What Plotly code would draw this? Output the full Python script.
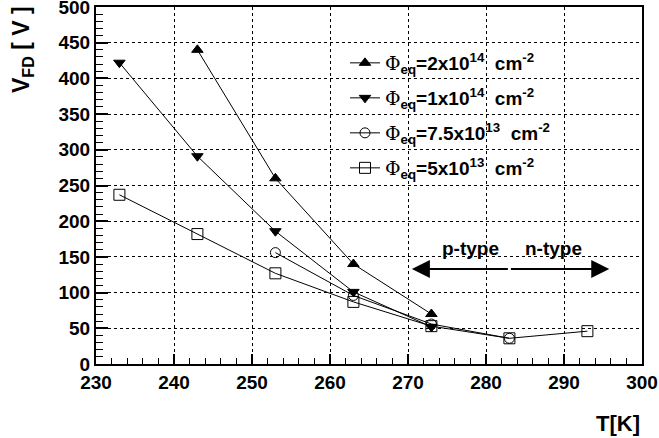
import plotly.graph_objects as go

# ---- data ----
T_2e14 = [243, 253, 263, 273]
V_2e14 = [440, 260, 140, 70]

T_1e14 = [233, 243, 253, 263, 273]
V_1e14 = [422, 291, 186, 101, 52]

T_75e13 = [253, 263, 273, 283]
V_75e13 = [156, 96, 56, 36]

T_5e13 = [233, 243, 253, 263, 273, 283, 293]
V_5e13 = [237, 182, 127, 87, 53, 36, 46]

PHI = "<span style='font-family:DejaVu Serif;font-weight:normal'>Φ</span>"
names = [
    PHI + "<sub>eq</sub>=2x10<sup>14</sup>&nbsp; cm<sup>-2</sup>",
    PHI + "<sub>eq</sub>=1x10<sup>14</sup>&nbsp; cm<sup>-2</sup>",
    PHI + "<sub>eq</sub>=7.5x10<sup>13</sup>&nbsp; cm<sup>-2</sup>",
    PHI + "<sub>eq</sub>=5x10<sup>13</sup>&nbsp; cm<sup>-2</sup>",
]
symbols = ["triangle-up", "triangle-down", "circle-open", "square-open"]
msizes = [10, 10, 10, 11]
legend_ids = ["legend", "legend2", "legend3", "legend4"]
legend_y = [63, 98, 133, 168]  # pixel rows of legend entries

xs = [T_2e14, T_1e14, T_75e13, T_5e13]
ys = [V_2e14, V_1e14, V_75e13, V_5e13]

W, H = 659, 438
L, R, TOP, B = 96, 17, 7, 74
pw, ph = W - L - R, H - TOP - B

FAM = "Liberation Sans, Arial, sans-serif"

fig = go.Figure()
for i in range(4):
    fig.add_trace(go.Scatter(
        x=xs[i], y=ys[i], mode="lines+markers", name=names[i],
        line=dict(color="black", width=1),
        marker=dict(symbol=symbols[i], size=msizes[i], color="black",
                    line=dict(color="black", width=1)),
        legend=legend_ids[i], showlegend=True,
    ))

font_main = dict(family=FAM, size=19, color="black", weight="bold")

legend_common = dict(
    bgcolor="rgba(0,0,0,0)", borderwidth=0,
    font=dict(family=FAM, size=19, color="black", weight="bold"),
    xanchor="left", yanchor="middle", itemwidth=30, tracegroupgap=0,
)
lay_legends = {}
for i, lid in enumerate(legend_ids):
    d = dict(legend_common)
    d["x"] = (345 - L) / pw
    d["y"] = (TOP + ph - legend_y[i]) / ph
    lay_legends[lid] = d

axis_common = dict(
    showline=True, linecolor="black", linewidth=2, mirror=True,
    ticks="inside", tickcolor="black", tickwidth=1.5,
    showgrid=True, gridcolor="black", griddash="dot", gridwidth=1,
    zeroline=False, tickfont=font_main, ticklabeloverflow="allow",
)

fig.update_layout(
    width=W, height=H,
    margin=dict(l=L, r=R, t=TOP, b=B, autoexpand=False),
    paper_bgcolor="white", plot_bgcolor="white",
    xaxis=dict(axis_common, range=[230, 300], dtick=10, tick0=230, ticklen=10,
               minor=dict(dtick=2, ticks="inside", ticklen=6, tickcolor="black", tickwidth=1, showgrid=False)),
    yaxis=dict(axis_common, range=[0, 500], dtick=50, tick0=0, ticklen=12,
               minor=dict(dtick=10, ticks="inside", ticklen=7, tickcolor="black", tickwidth=1, showgrid=False)),
    **lay_legends,
)

# axis titles
fig.add_annotation(text="V<sub>FD</sub> [ V ]", xref="paper", yref="paper",
                   x=(22 - L) / pw, y=(TOP + ph - 50) / ph, textangle=-90,
                   showarrow=False, xanchor="center", yanchor="middle",
                   font=dict(family=FAM, size=23, color="black", weight="bold"))
fig.add_annotation(text="T[K]", xref="paper", yref="paper",
                   x=(618 - L) / pw, y=(TOP + ph - 423) / ph,
                   showarrow=False, xanchor="center", yanchor="middle",
                   font=dict(family=FAM, size=22, color="black", weight="bold"))

# p-type / n-type arrow
arrow_y = 133
arrow_mid = 283
arrow_left, arrow_right = 270.5, 295.8
for tip in (arrow_left, arrow_right):
    fig.add_annotation(x=tip, y=arrow_y, ax=arrow_mid, ay=arrow_y, xref="x", yref="y",
                       axref="x", ayref="y", text="", showarrow=True,
                       arrowhead=2, arrowsize=1.8, arrowwidth=2, arrowcolor="black", standoff=0)
fig.add_annotation(text="p-type", x=278, y=162, xref="x", yref="y", showarrow=False,
                   font=dict(family=FAM, size=19, color="black", weight="bold"))
fig.add_annotation(text="n-type", x=288.7, y=162, xref="x", yref="y", showarrow=False,
                   font=dict(family=FAM, size=19, color="black", weight="bold"))

fig.write_html("out.html", config={"displayModeBar": False},
               post_script="document.body.style.margin='0px';")
